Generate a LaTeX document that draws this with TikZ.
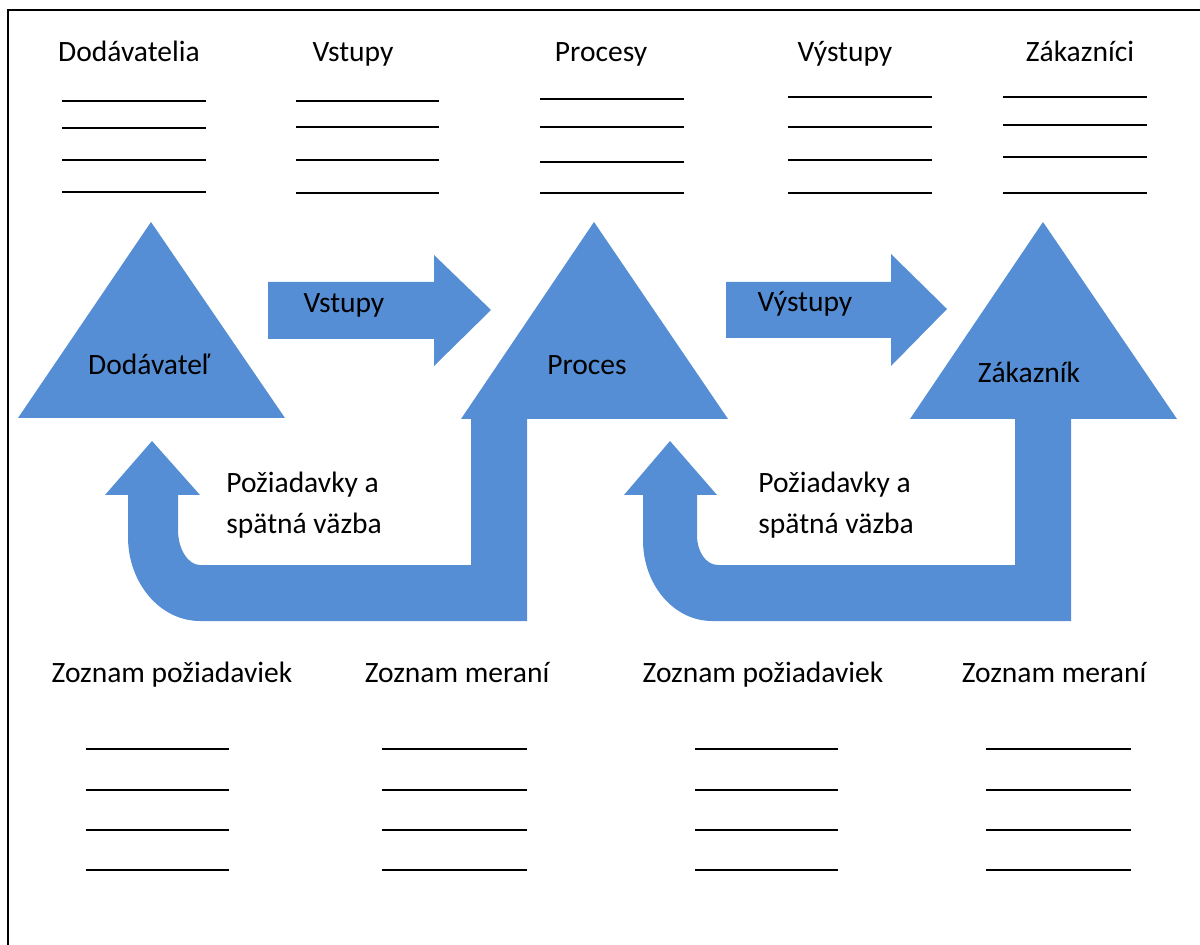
\documentclass[tikz,border=0pt]{standalone}
\usepackage{fontspec}
\setmainfont{Carlito}
\definecolor{shapeblue}{RGB}{85,142,213}
\begin{document}
\begin{tikzpicture}[x=0.02cm,y=-0.02cm,
  blueshape/.style={fill=shapeblue,draw=none},
  lbl/.style={font=\fontsize{16.8}{20}\selectfont,inner sep=0pt,anchor=base,text=black},
  lblw/.style={lbl,anchor=base west},
  blank/.style={draw=black,line width=1.2pt}]
\useasboundingbox (0,0) rectangle (1200,945);
\clip (0,0) rectangle (1200,945);
% frame
\draw[line width=1.3pt] (8,10) rectangle (1230,980);

% top headings
\node[lbl] (h1) at (129,62) {Dodávatelia};
\node[lbl] (h2) at (353,62) {Vstupy};
\node[lbl] (h3) at (601,62) {Procesy};
\node[lbl] (h4) at (845,62) {Výstupy};
\node[lbl] (h5) at (1080,62) {Zákazníci};

% top blanks
\foreach \y in {101,128,160,192} \draw[blank] (62,\y) -- (206,\y);
\foreach \y in {101,127,160,193} \draw[blank] (296,\y) -- (439,\y);
\foreach \y in {99,127,162,193} \draw[blank] (540,\y) -- (684,\y);
\foreach \y in {97,127,160,193} \draw[blank] (788,\y) -- (932,\y);
\foreach \y in {97,125,157,193} \draw[blank] (1003,\y) -- (1147,\y);

% Dodavatel triangle
\fill[blueshape] (151,222) -- (285,418) -- (18,418) -- cycle;

% Vstupy arrow
\fill[blueshape] (268,282) -- (434,282) -- (434,255) -- (491,310) -- (434,366) -- (434,339) -- (268,339) -- cycle;
% Vystupy arrow
\fill[blueshape] (726,282) -- (891,282) -- (891,254) -- (947,309) -- (891,366) -- (891,338) -- (726,338) -- cycle;

% Proces composite (triangle + stem + U-turn arrow)
\fill[blueshape] (594,222) -- (728,419) -- (527,419) -- (527,621) -- (200,621)
  .. controls (160,621) and (128,583) .. (128,537) -- (128,495) -- (105,495) -- (152,441)
  -- (200,495) -- (178,495) -- (178,530) .. controls (178,549) and (188,565) .. (200,565)
  -- (471,565) -- (471,419) -- (461,419) -- cycle;

% Zakaznik composite
\fill[blueshape] (1043,222) -- (1177,419) -- (1071,419) -- (1071,621) -- (712,621)
  .. controls (674,621) and (643,585) .. (643,540) -- (643,495) -- (624,495) -- (670,441)
  -- (717,495) -- (697,495) -- (697,535) .. controls (697,552) and (706,565) .. (718,565)
  -- (1015,565) -- (1015,419) -- (910,419) -- cycle;

% shape labels
\node[lbl] (t1) at (149,375) {Dodávateľ};
\node[lbl] (t2) at (587,375) {Proces};
\node[lbl] (t3) at (1029,383) {Zákazník};
\node[lbl] (a1) at (344,313) {Vstupy};
\node[lbl] (a2) at (805,312) {Výstupy};

\node[lblw] (r1a) at (226,493) {Požiadavky a};
\node[lblw] (r1b) at (226,534) {spätná väzba};
\node[lblw] (r2a) at (758,493) {Požiadavky a};
\node[lblw] (r2b) at (758,534) {spätná väzba};

% bottom headings
\node[lbl] (b1) at (172,682) {Zoznam požiadaviek};
\node[lbl] (b2) at (457,682) {Zoznam meraní};
\node[lbl] (b3) at (763,682) {Zoznam požiadaviek};
\node[lbl] (b4) at (1054,682) {Zoznam meraní};

% bottom blanks
\foreach \y in {749,790,830,870} {
  \draw[blank] (86,\y) -- (229,\y);
  \draw[blank] (382,\y) -- (527,\y);
  \draw[blank] (695,\y) -- (838,\y);
  \draw[blank] (986,\y) -- (1131,\y);
}
\end{tikzpicture}
\end{document}
